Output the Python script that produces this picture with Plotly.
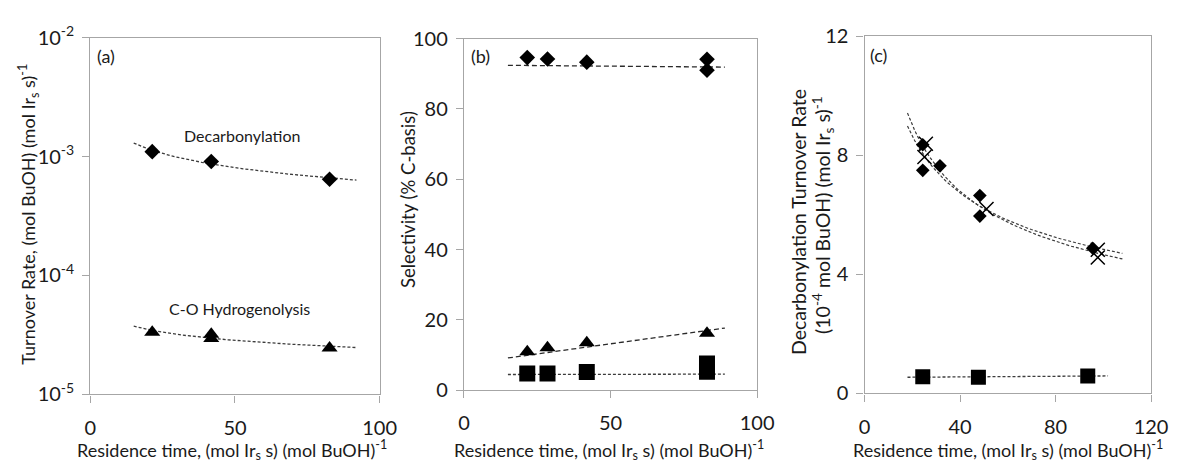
import numpy as np
import plotly.graph_objects as go

W, H = 1185, 462

# ---------------- Data ----------------
# Panel (a): turnover rates (log scale)
a_dec_x = [21.4, 41.8, 82.7]
a_dec_y = [1.10e-3, 9.1e-4, 6.45e-4]
a_hyd_x = [21.4, 41.8, 41.8, 82.7]
a_hyd_y = [3.33e-5, 3.2e-5, 2.95e-5, 2.45e-5]

# Panel (b): selectivity
b_dec_x = [21.6, 28.5, 41.9, 82.9, 82.9]
b_dec_y = [94.6, 94.2, 93.3, 94.1, 91.0]
b_hyd_x = [21.6, 28.5, 41.9, 82.9]
b_hyd_y = [11.0, 12.1, 13.5, 16.2]
b_oth_x = [21.6, 28.5, 41.9, 82.9, 82.9]
b_oth_y = [4.75, 4.75, 5.2, 5.3, 7.6]
# trend lines in (b) (start, end)
b_trend_x = [15, 89]
b_dec_trend = [92.4, 91.9]
b_hyd_trend = [9.2, 17.7]
b_oth_trend = [4.5, 4.6]

# Panel (c): decarbonylation turnover rate (1e-4)
c_dia_x = [24.4, 24.4, 31.6, 48.3, 48.3, 95.6]
c_dia_y = [8.36, 7.5, 7.65, 6.65, 5.96, 4.88]
c_crs_x = [25.7, 25.1, 51.1, 97.7, 97.7]
c_crs_y = [8.39, 7.95, 6.2, 4.83, 4.57]
c_sq_x = [24.4, 47.7, 93.5]
c_sq_y = [0.56, 0.54, 0.59]

# fit ranges
a_fit_range = [15, 92]
c_fit_range = [18, 108]
c_sq_fit_range = [18, 102]

# ---------------- Helpers ----------------
def power_fit(xs, ys, xr):
    b, lna = np.polyfit(np.log(xs), np.log(ys), 1)
    xx = np.linspace(xr[0], xr[1], 60)
    return xx, np.exp(lna) * xx ** b

def lin_fit(xs, ys, xr):
    m, c = np.polyfit(xs, ys, 1)
    xx = np.array(xr, dtype=float)
    return xx, m * xx + c

def px(x):
    return x / W

def py(y):
    return 1 - y / H

FONT = "Lato"
BLACK = "#000000"
GRID = "#a6a6a6"

fig = go.Figure()

def marker_trace(x, y, xa, ya, symbol, size, open_=False):
    if open_:
        m = dict(symbol=symbol, size=size, color=BLACK, line=dict(color=BLACK, width=1.5))
    else:
        m = dict(symbol=symbol, size=size, color=BLACK, line=dict(width=0))
    fig.add_trace(go.Scatter(x=x, y=y, mode="markers", marker=m, xaxis=xa, yaxis=ya,
                             showlegend=False, hoverinfo="skip"))

def line_trace(x, y, xa, ya, dash, color="#3c3c3c", width=1.3):
    fig.add_trace(go.Scatter(x=x, y=y, mode="lines", line=dict(color=color, width=width, dash=dash),
                             xaxis=xa, yaxis=ya, showlegend=False, hoverinfo="skip"))

# Panel a
xx, yy = power_fit(a_dec_x, a_dec_y, a_fit_range)
line_trace(xx, yy, "x", "y", "3px,2px")
xx, yy = power_fit(a_hyd_x, a_hyd_y, a_fit_range)
line_trace(xx, yy, "x", "y", "3px,2px")
marker_trace(a_dec_x, a_dec_y, "x", "y", "diamond", 12)
marker_trace(a_hyd_x, a_hyd_y, "x", "y", "triangle-up", 14)

# Panel b
line_trace(b_trend_x, b_dec_trend, "x2", "y2", "5px,3px", color="#2a2a2a")
line_trace(b_trend_x, b_hyd_trend, "x2", "y2", "5px,3px", color="#2a2a2a")
line_trace(b_trend_x, b_oth_trend, "x2", "y2", "3px,2px")
marker_trace(b_dec_x, b_dec_y, "x2", "y2", "diamond", 12)
marker_trace(b_hyd_x, b_hyd_y, "x2", "y2", "triangle-up", 14)
marker_trace(b_oth_x, b_oth_y, "x2", "y2", "square", 16)

# Panel c
xx, yy = power_fit(c_dia_x, c_dia_y, c_fit_range)
line_trace(xx, yy, "x3", "y3", "3px,2px", width=1.2)
xx, yy = power_fit(c_crs_x, c_crs_y, c_fit_range)
line_trace(xx, yy, "x3", "y3", "3px,2px", width=1.2)
xx, yy = lin_fit(c_sq_x, c_sq_y, c_sq_fit_range)
line_trace(xx, yy, "x3", "y3", "3px,2px")
marker_trace(c_dia_x, c_dia_y, "x3", "y3", "diamond", 10.5)
marker_trace(c_crs_x, c_crs_y, "x3", "y3", "x-thin-open", 14, open_=True)
marker_trace(c_sq_x, c_sq_y, "x3", "y3", "square", 15)

tickfont = dict(family=FONT, size=20, color="#1a1a1a")
ax_common = dict(showgrid=False, zeroline=False, showline=True, linecolor=GRID, linewidth=1.3,
                 mirror=True, ticks="outside", ticklen=7, tickcolor=GRID, tickwidth=1.3,
                 tickfont=tickfont)
xax = dict(ticklabelstandoff=8, **ax_common)
yax = dict(ticklabelstandoff=4, **ax_common)

fig.update_layout(
    width=W, height=H, margin=dict(l=0, r=0, t=0, b=0),
    paper_bgcolor="white", plot_bgcolor="white",
    xaxis=dict(domain=[px(86), px(381)], range=[0, 100], tickvals=[0, 50, 100], anchor="y", **xax),
    yaxis=dict(domain=[py(402), py(24)], type="log", range=[-5, -2], anchor="x",
               tickvals=[1e-5, 1e-4, 1e-3, 1e-2],
               ticktext=["10<sup>-5</sup>", "10<sup>-4</sup>", "10<sup>-3</sup>", "10<sup>-2</sup>"],
               **yax),
    xaxis2=dict(domain=[px(467), px(766)], range=[0, 100], tickvals=[0, 50, 100], anchor="y2", **xax),
    yaxis2=dict(domain=[py(397.7), py(25)], range=[0, 100], tickvals=[0, 20, 40, 60, 80, 100], anchor="x2",
                **yax),
    xaxis3=dict(domain=[px(875.5), px(1167.7)], range=[0, 120], tickvals=[0, 40, 80, 120], anchor="y3",
                **xax),
    yaxis3=dict(domain=[py(401), py(22.7)], range=[0, 12], tickvals=[0, 4, 8, 12], anchor="x3", **yax),
)

xtitle = "Residence time, (mol Ir<sub>s</sub> s) (mol BuOH)<sup>-1</sup>"
annots = [
    dict(x=px(230), y=py(461), text=xtitle, textangle=0, size=18),
    dict(x=px(615), y=py(461), text=xtitle, textangle=0, size=18),
    dict(x=px(1022), y=py(461), text=xtitle, textangle=0, size=18),
    dict(x=px(23), y=py(211), text="Turnover Rate, (mol BuOH) (mol Ir<sub>s</sub> s)<sup>-1</sup>", textangle=-90, size=18),
    dict(x=px(410), y=py(196), text="Selectivity (% C-basis)", textangle=-90, size=18.5),
    dict(x=px(808), y=py(219), text="Decarbonylation Turnover Rate", textangle=-90, size=19.5),
    dict(x=px(833), y=py(212), text="(10<sup>-4</sup> mol BuOH) (mol Ir<sub>s</sub> s)<sup>-1</sup>", textangle=-90, size=19.5),
    dict(x=px(102), y=py(43), text="(a)", textangle=0, size=18),
    dict(x=px(484), y=py(43), text="(b)", textangle=0, size=18),
    dict(x=px(890), y=py(42), text="(c)", textangle=0, size=18),
    dict(x=px(241), y=py(128), text="Decarbonylation", textangle=0, size=16),
    dict(x=px(238), y=py(311), text="C-O Hydrogenolysis", textangle=0, size=16),
]
for a in annots:
    size = a.pop("size")
    fig.add_annotation(xref="paper", yref="paper", showarrow=False, xanchor="center", yanchor="middle",
                       font=dict(family=FONT, size=size, color="#1a1a1a"), **a)

fig.write_html("out.html")
